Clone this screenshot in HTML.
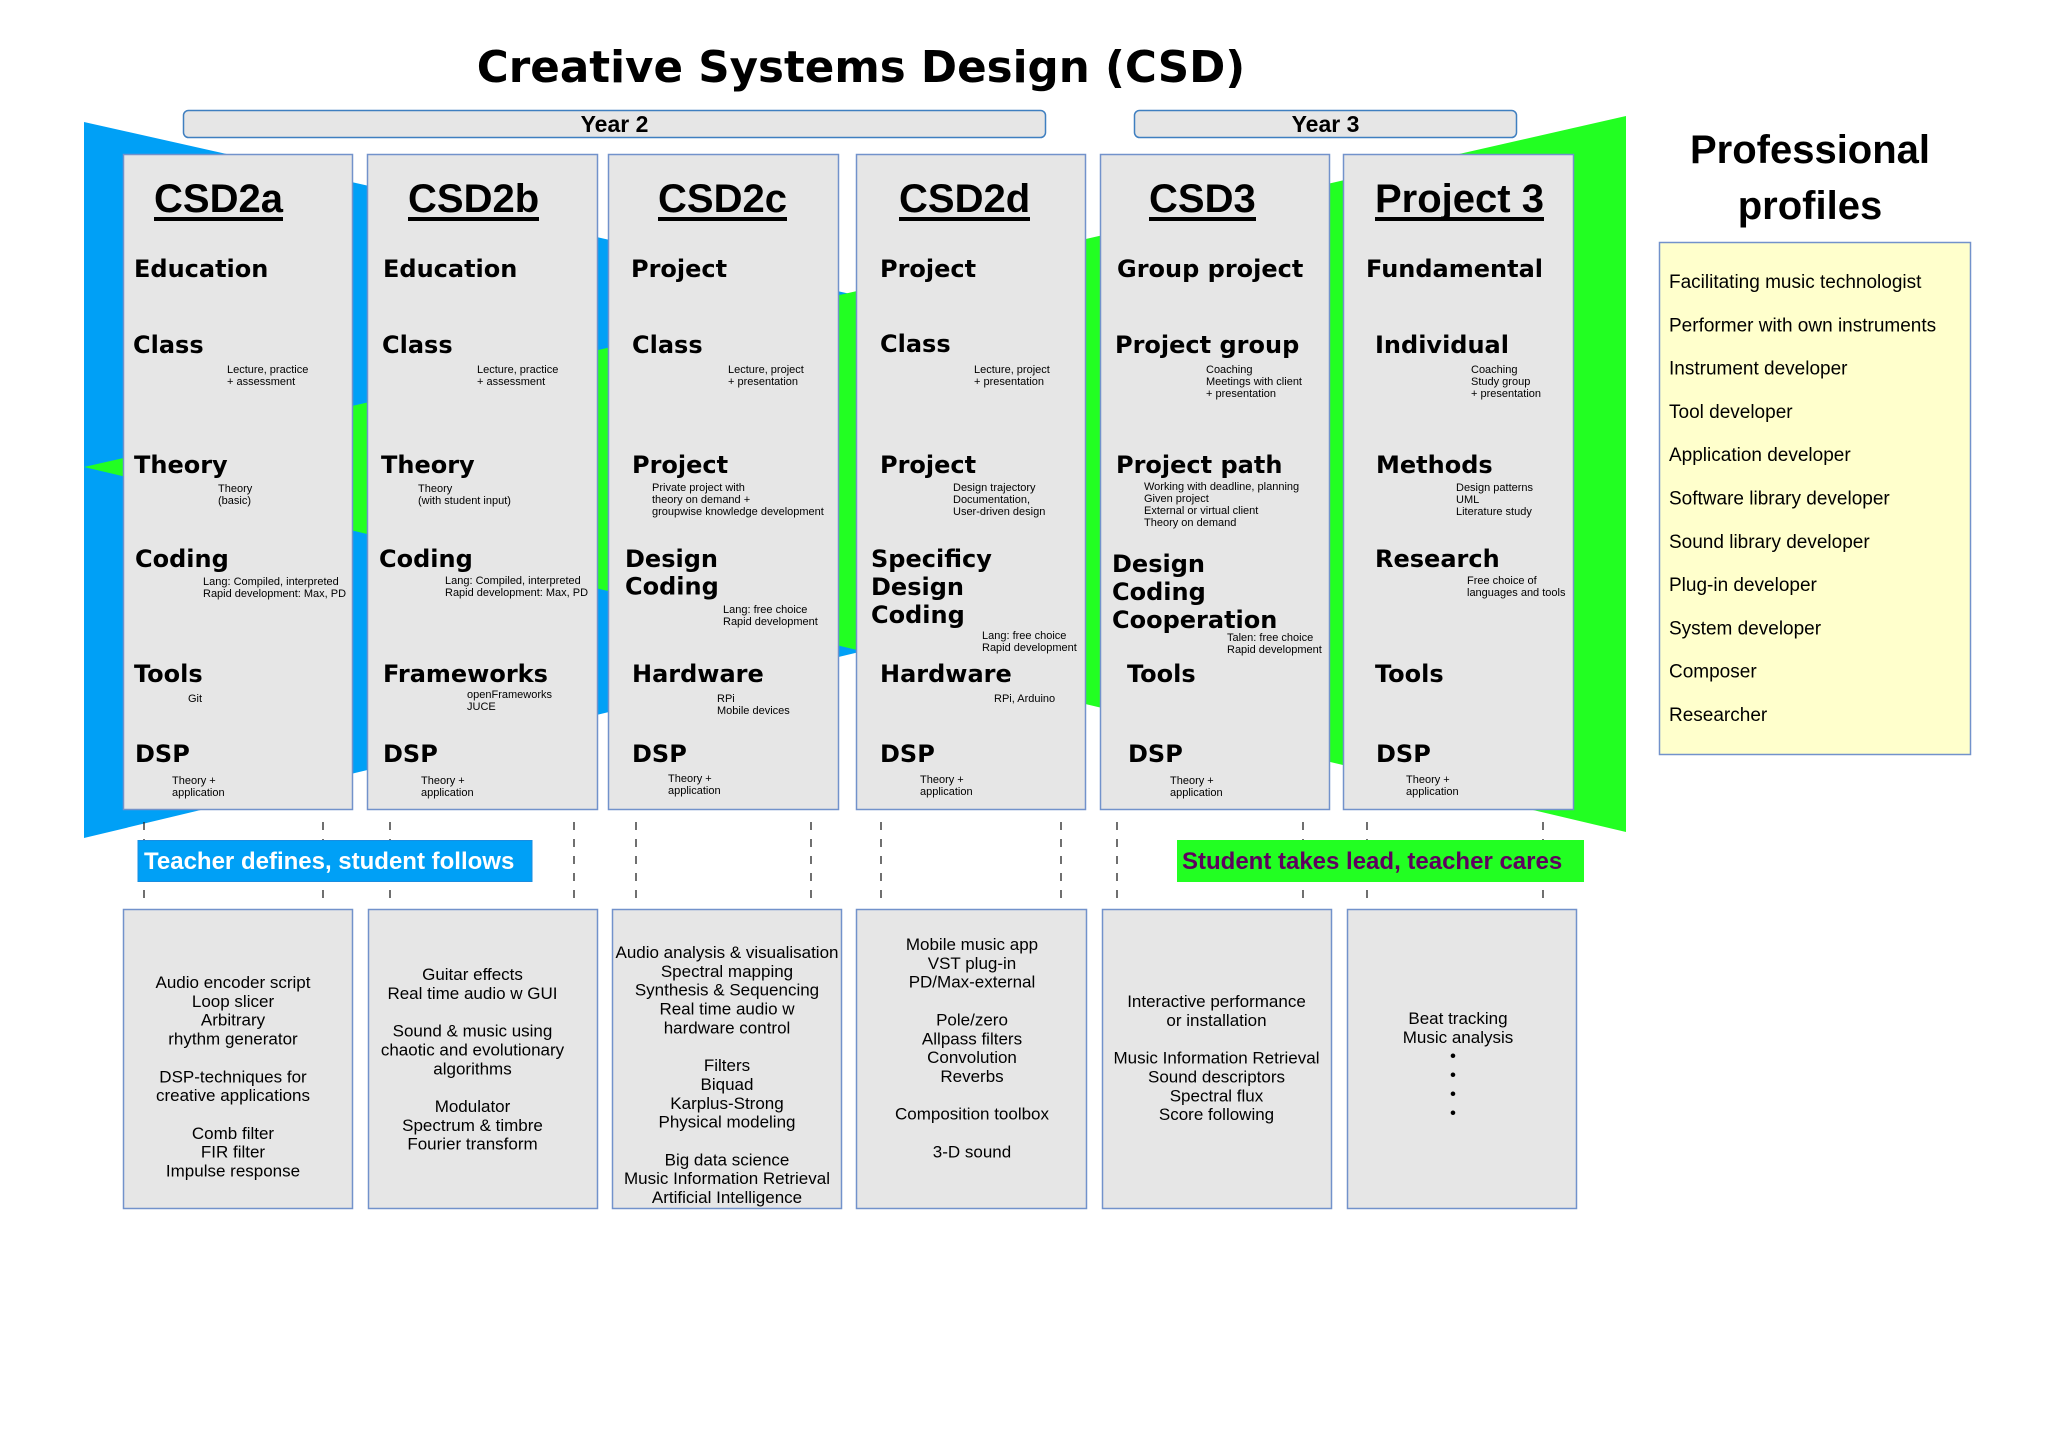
<!DOCTYPE html>
<html><head><meta charset="utf-8"><style>
html,body{margin:0;padding:0;background:#fff;}
svg{display:block;}
.t{font:bold 43.6px "DejaVu Sans",sans-serif;}
.y{font:bold 23px "Liberation Sans",sans-serif;}
.h{font:bold 40px "Liberation Sans",sans-serif;}
.l{font:bold 24px "DejaVu Sans",sans-serif;}
.n{font:11px "Liberation Sans",sans-serif;}
.b{font:17px "Liberation Sans",sans-serif;}
.p{font:19px "Liberation Sans",sans-serif;}
.pt{font:bold 40px "Liberation Sans",sans-serif;}
.bar{font:bold 24px "Liberation Sans",sans-serif;}
</style></head><body>
<svg width="2048" height="1448" viewBox="0 0 2048 1448" xmlns="http://www.w3.org/2000/svg">
<rect x="0" y="0" width="2048" height="1448" fill="#fff"/>
<!-- crossing triangles -->
<polygon points="84,122 1626,468 84,838" fill="#00a0f6"/>
<polygon points="1626,116 1626,832 84,467" fill="#22ff22"/>

<!-- title -->
<text class="t" x="861" y="82" text-anchor="middle">Creative Systems Design (CSD)</text>

<!-- year boxes -->
<rect x="183.5" y="110.5" width="862" height="27" rx="5" fill="#e6e6e6" stroke="#3f7fc0" stroke-width="1.5"/>
<text class="y" x="614.5" y="132" text-anchor="middle">Year 2</text>
<rect x="1134.5" y="110.5" width="382" height="27" rx="5" fill="#e6e6e6" stroke="#3f7fc0" stroke-width="1.5"/>
<text class="y" x="1325.5" y="132" text-anchor="middle">Year 3</text>

<!-- column boxes -->
<g fill="#e6e6e6" stroke="#7292cb" stroke-width="1.5">
<rect x="123.5" y="154.5" width="229" height="655"/>
<rect x="367.5" y="154.5" width="230" height="655"/>
<rect x="608.5" y="154.5" width="230" height="655"/>
<rect x="856.5" y="154.5" width="229" height="655"/>
<rect x="1100.5" y="154.5" width="229" height="655"/>
<rect x="1343.5" y="154.5" width="230" height="655"/>
</g>

<!-- headers -->
<text class="h" x="154" y="212">CSD2a</text><rect x="154" y="217" width="129" height="4"/>
<text class="h" x="408" y="212">CSD2b</text><rect x="408" y="217" width="131" height="4"/>
<text class="h" x="658" y="212">CSD2c</text><rect x="658" y="217" width="129" height="4"/>
<text class="h" x="899" y="212">CSD2d</text><rect x="899" y="217" width="131" height="4"/>
<text class="h" x="1149" y="212">CSD3</text><rect x="1149" y="217" width="107" height="4"/>
<text class="h" x="1375" y="212">Project 3</text><rect x="1375" y="217" width="169" height="4"/>

<!-- column a -->
<text class="l" x="134" y="277">Education</text>
<text class="l" x="133" y="353">Class</text>
<text class="n" y="373"><tspan x="227">Lecture, practice</tspan><tspan x="227" dy="12">+ assessment</tspan></text>
<text class="l" x="134" y="473">Theory</text>
<text class="n" y="492"><tspan x="218">Theory</tspan><tspan x="218" dy="12">(basic)</tspan></text>
<text class="l" x="135" y="567">Coding</text>
<text class="n" y="585"><tspan x="203">Lang: Compiled, interpreted</tspan><tspan x="203" dy="12">Rapid development: Max, PD</tspan></text>
<text class="l" x="134" y="682">Tools</text>
<text class="n" x="188" y="702">Git</text>
<text class="l" x="135" y="762">DSP</text>
<text class="n" y="784"><tspan x="172">Theory +</tspan><tspan x="172" dy="12">application</tspan></text>

<!-- column b -->
<text class="l" x="383" y="277">Education</text>
<text class="l" x="382" y="353">Class</text>
<text class="n" y="373"><tspan x="477">Lecture, practice</tspan><tspan x="477" dy="12">+ assessment</tspan></text>
<text class="l" x="381" y="473">Theory</text>
<text class="n" y="492"><tspan x="418">Theory</tspan><tspan x="418" dy="12">(with student input)</tspan></text>
<text class="l" x="379" y="567">Coding</text>
<text class="n" y="584"><tspan x="445">Lang: Compiled, interpreted</tspan><tspan x="445" dy="12">Rapid development: Max, PD</tspan></text>
<text class="l" x="383" y="682">Frameworks</text>
<text class="n" y="698"><tspan x="467">openFrameworks</tspan><tspan x="467" dy="12">JUCE</tspan></text>
<text class="l" x="383" y="762">DSP</text>
<text class="n" y="784"><tspan x="421">Theory +</tspan><tspan x="421" dy="12">application</tspan></text>

<!-- column c -->
<text class="l" x="631" y="277">Project</text>
<text class="l" x="632" y="353">Class</text>
<text class="n" y="373"><tspan x="728">Lecture, project</tspan><tspan x="728" dy="12">+ presentation</tspan></text>
<text class="l" x="632" y="473">Project</text>
<text class="n" y="491"><tspan x="652">Private project with</tspan><tspan x="652" dy="12">theory on demand +</tspan><tspan x="652" dy="12">groupwise knowledge development</tspan></text>
<text class="l" y="567"><tspan x="625">Design</tspan><tspan x="625" dy="27.5">Coding</tspan></text>
<text class="n" y="613"><tspan x="723">Lang: free choice</tspan><tspan x="723" dy="12">Rapid development</tspan></text>
<text class="l" x="632" y="682">Hardware</text>
<text class="n" y="702"><tspan x="717">RPi</tspan><tspan x="717" dy="12">Mobile devices</tspan></text>
<text class="l" x="632" y="762">DSP</text>
<text class="n" y="782"><tspan x="668">Theory +</tspan><tspan x="668" dy="12">application</tspan></text>

<!-- column d -->
<text class="l" x="880" y="277">Project</text>
<text class="l" x="880" y="352">Class</text>
<text class="n" y="373"><tspan x="974">Lecture, project</tspan><tspan x="974" dy="12">+ presentation</tspan></text>
<text class="l" x="880" y="473">Project</text>
<text class="n" y="491"><tspan x="953">Design trajectory</tspan><tspan x="953" dy="12">Documentation,</tspan><tspan x="953" dy="12">User-driven design</tspan></text>
<text class="l" y="567"><tspan x="871">Specificy</tspan><tspan x="871" dy="28">Design</tspan><tspan x="871" dy="28">Coding</tspan></text>
<text class="n" y="639"><tspan x="982">Lang: free choice</tspan><tspan x="982" dy="12">Rapid development</tspan></text>
<text class="l" x="880" y="682">Hardware</text>
<text class="n" x="994" y="702">RPi, Arduino</text>
<text class="l" x="880" y="762">DSP</text>
<text class="n" y="783"><tspan x="920">Theory +</tspan><tspan x="920" dy="12">application</tspan></text>

<!-- column CSD3 -->
<text class="l" x="1117" y="277">Group project</text>
<text class="l" x="1115" y="353">Project group</text>
<text class="n" y="373"><tspan x="1206">Coaching</tspan><tspan x="1206" dy="12">Meetings with client</tspan><tspan x="1206" dy="12">+ presentation</tspan></text>
<text class="l" x="1116" y="473">Project path</text>
<text class="n" y="490"><tspan x="1144">Working with deadline, planning</tspan><tspan x="1144" dy="12">Given project</tspan><tspan x="1144" dy="12">External or virtual client</tspan><tspan x="1144" dy="12">Theory on demand</tspan></text>
<text class="l" y="572"><tspan x="1112">Design</tspan><tspan x="1112" dy="28">Coding</tspan><tspan x="1112" dy="28">Cooperation</tspan></text>
<text class="n" y="641"><tspan x="1227">Talen: free choice</tspan><tspan x="1227" dy="12">Rapid development</tspan></text>
<text class="l" x="1127" y="682">Tools</text>
<text class="l" x="1128" y="762">DSP</text>
<text class="n" y="784"><tspan x="1170">Theory +</tspan><tspan x="1170" dy="12">application</tspan></text>

<!-- column P3 -->
<text class="l" x="1366" y="277">Fundamental</text>
<text class="l" x="1375" y="353">Individual</text>
<text class="n" y="373"><tspan x="1471">Coaching</tspan><tspan x="1471" dy="12">Study group</tspan><tspan x="1471" dy="12">+ presentation</tspan></text>
<text class="l" x="1376" y="473">Methods</text>
<text class="n" y="491"><tspan x="1456">Design patterns</tspan><tspan x="1456" dy="12">UML</tspan><tspan x="1456" dy="12">Literature study</tspan></text>
<text class="l" x="1375" y="567">Research</text>
<text class="n" y="584"><tspan x="1467">Free choice of</tspan><tspan x="1467" dy="12">languages and tools</tspan></text>
<text class="l" x="1375" y="682">Tools</text>
<text class="l" x="1376" y="762">DSP</text>
<text class="n" y="783"><tspan x="1406">Theory +</tspan><tspan x="1406" dy="12">application</tspan></text>

<!-- dashed lines -->
<g stroke="#222" stroke-width="1.3" stroke-dasharray="8 9">
<line x1="144" y1="822" x2="144" y2="898"/><line x1="323" y1="822" x2="323" y2="898"/>
<line x1="390" y1="822" x2="390" y2="898"/><line x1="574" y1="822" x2="574" y2="898"/>
<line x1="636" y1="822" x2="636" y2="898"/><line x1="811" y1="822" x2="811" y2="898"/>
<line x1="881" y1="822" x2="881" y2="898"/><line x1="1061" y1="822" x2="1061" y2="898"/>
<line x1="1117" y1="822" x2="1117" y2="898"/><line x1="1303" y1="822" x2="1303" y2="898"/>
<line x1="1367" y1="822" x2="1367" y2="898"/><line x1="1543" y1="822" x2="1543" y2="898"/>
</g>

<!-- bars -->
<rect x="138" y="840.5" width="394" height="41" fill="#00a0f6" stroke="#1a8de0" stroke-width="1"/>
<text class="bar" x="144" y="869" fill="#fff">Teacher defines, student follows</text>
<rect x="1177" y="840" width="407" height="42" fill="#22ff22"/>
<text class="bar" x="1182" y="869" fill="#5e005e">Student takes lead, teacher cares</text>

<!-- bottom boxes -->
<g fill="#e6e6e6" stroke="#7292cb" stroke-width="1.5">
<rect x="123.5" y="909.5" width="229" height="299"/>
<rect x="368.5" y="909.5" width="229" height="299"/>
<rect x="612.5" y="909.5" width="229" height="299"/>
<rect x="856.5" y="909.5" width="230" height="299"/>
<rect x="1102.5" y="909.5" width="229" height="299"/>
<rect x="1347.5" y="909.5" width="229" height="299"/>
</g>
<g class="b" text-anchor="middle">
<text class="b" x="233" y="988">Audio encoder script</text>
<text class="b" x="233" y="1006.85">Loop slicer</text>
<text class="b" x="233" y="1025.7">Arbitrary</text>
<text class="b" x="233" y="1044.55">rhythm generator</text>
<text class="b" x="233" y="1082.25">DSP-techniques for</text>
<text class="b" x="233" y="1101.1">creative applications</text>
<text class="b" x="233" y="1138.8">Comb filter</text>
<text class="b" x="233" y="1157.65">FIR filter</text>
<text class="b" x="233" y="1176.5">Impulse response</text>

<text class="b" x="472.5" y="980">Guitar effects</text>
<text class="b" x="472.5" y="998.85">Real time audio w GUI</text>
<text class="b" x="472.5" y="1036.55">Sound &amp; music using</text>
<text class="b" x="472.5" y="1055.4">chaotic and evolutionary</text>
<text class="b" x="472.5" y="1074.25">algorithms</text>
<text class="b" x="472.5" y="1111.95">Modulator</text>
<text class="b" x="472.5" y="1130.8">Spectrum &amp; timbre</text>
<text class="b" x="472.5" y="1149.65">Fourier transform</text>

<text class="b" x="727" y="958">Audio analysis &amp; visualisation</text>
<text class="b" x="727" y="976.85">Spectral mapping</text>
<text class="b" x="727" y="995.7">Synthesis &amp; Sequencing</text>
<text class="b" x="727" y="1014.55">Real time audio w</text>
<text class="b" x="727" y="1033.4">hardware control</text>
<text class="b" x="727" y="1071.1">Filters</text>
<text class="b" x="727" y="1089.95">Biquad</text>
<text class="b" x="727" y="1108.8">Karplus-Strong</text>
<text class="b" x="727" y="1127.65">Physical modeling</text>
<text class="b" x="727" y="1165.35">Big data science</text>
<text class="b" x="727" y="1184.2">Music Information Retrieval</text>
<text class="b" x="727" y="1203.05">Artificial Intelligence</text>

<text class="b" x="972" y="950">Mobile music app</text>
<text class="b" x="972" y="968.85">VST plug-in</text>
<text class="b" x="972" y="987.7">PD/Max-external</text>
<text class="b" x="972" y="1025.4">Pole/zero</text>
<text class="b" x="972" y="1044.25">Allpass filters</text>
<text class="b" x="972" y="1063.1">Convolution</text>
<text class="b" x="972" y="1081.95">Reverbs</text>
<text class="b" x="972" y="1119.65">Composition toolbox</text>
<text class="b" x="972" y="1157.35">3-D sound</text>

<text class="b" x="1216.5" y="1007">Interactive performance</text>
<text class="b" x="1216.5" y="1025.85">or installation</text>
<text class="b" x="1216.5" y="1063.55">Music Information Retrieval</text>
<text class="b" x="1216.5" y="1082.4">Sound descriptors</text>
<text class="b" x="1216.5" y="1101.25">Spectral flux</text>
<text class="b" x="1216.5" y="1120.1">Score following</text>

<text class="b" x="1458" y="1024">Beat tracking</text>
<text class="b" x="1458" y="1042.85">Music analysis</text>
<text class="b" x="1453" y="1061.7">•</text>
<text class="b" x="1453" y="1080.55">•</text>
<text class="b" x="1453" y="1099.4">•</text>
<text class="b" x="1453" y="1118.25">•</text>
</g>

<!-- professional profiles -->
<text class="pt" x="1810" y="163" text-anchor="middle">Professional</text>
<text class="pt" x="1810" y="219" text-anchor="middle">profiles</text>
<rect x="1659.5" y="242.5" width="311" height="512" fill="#ffffcc" stroke="#7292cb" stroke-width="1.5"/>
<text class="p" x="1669" y="288">Facilitating music technologist</text>
<text class="p" x="1669" y="331.3">Performer with own instruments</text>
<text class="p" x="1669" y="374.6">Instrument developer</text>
<text class="p" x="1669" y="417.9">Tool developer</text>
<text class="p" x="1669" y="461.2">Application developer</text>
<text class="p" x="1669" y="504.5">Software library developer</text>
<text class="p" x="1669" y="547.8">Sound library developer</text>
<text class="p" x="1669" y="591.1">Plug-in developer</text>
<text class="p" x="1669" y="634.4">System developer</text>
<text class="p" x="1669" y="677.7">Composer</text>
<text class="p" x="1669" y="721">Researcher</text>
</svg>
</body></html>
